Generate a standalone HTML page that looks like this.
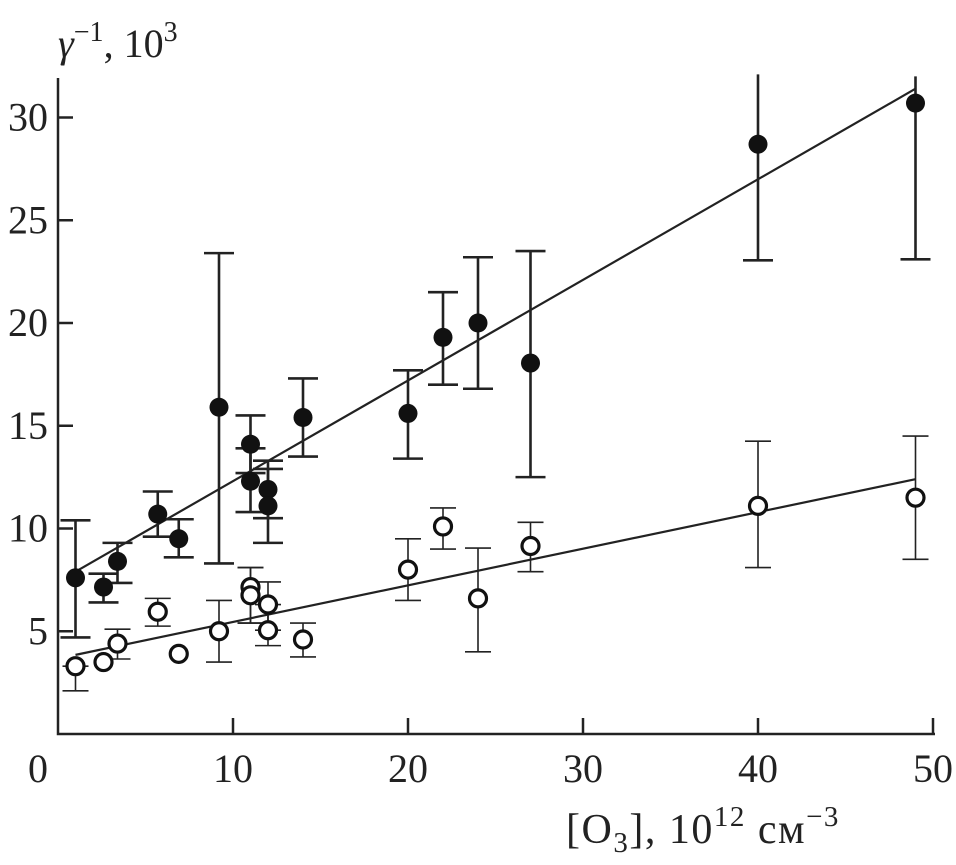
<!DOCTYPE html>
<html><head><meta charset="utf-8"><style>
body{margin:0;background:#fff}
svg{display:block;font-family:"Liberation Serif",serif}
</style></head><body>
<svg id="chart" width="956" height="865" viewBox="0 0 956 865">
<g id="axes"></g>
<g id="marks"></g>
</svg>
<script>
const filledX=[1,2.6,3.4,5.7,6.9,9.2,11,11,12,12,14,20,22,24,27,40,49];
const filledY=[7.6,7.15,8.4,10.7,9.5,15.9,14.1,12.3,11.9,11.1,15.4,15.6,19.3,20.0,18.05,28.7,30.7];
const filledLo=[4.7,6.4,7.35,9.6,8.6,8.3,12.7,10.8,10.5,9.3,13.5,13.4,17.0,16.8,12.5,23.05,23.1];
const filledHi=[10.4,7.8,9.3,11.8,10.45,23.4,15.5,13.9,13.3,12.9,17.3,17.7,21.5,23.2,23.5,32.1,32];
const openX=[1,2.6,3.4,5.7,6.9,9.2,11,11,12,12,14,20,22,24,27,40,49];
const openY=[3.3,3.5,4.4,5.95,3.9,5.0,7.15,6.75,6.3,5.05,4.6,8.0,10.1,6.6,9.15,11.1,11.5];
const openLo=[2.1,null,3.65,5.25,null,3.5,5.4,5.4,5.05,4.3,3.75,6.5,9.0,4.0,7.9,8.1,8.5];
const openHi=[3.3,null,5.1,6.6,null,6.5,8.1,8.1,7.4,6.3,5.4,9.5,11.0,9.05,10.3,14.25,14.5];
const fitFilled=[[1,7.9],[49,31.4]];
const fitOpen=[[1,3.85],[49,12.4]];
const xTicks=[0,10,20,30,40,50];
const yTicks=[5,10,15,20,25,30];
const yMax=31.9;

const NS="http://www.w3.org/2000/svg";
const sx=v=>58+v*17.5, sy=v=>734-v*20.55;
function mk(tag,attrs,parent){const e=document.createElementNS(NS,tag);for(const k in attrs)e.setAttribute(k,attrs[k]);parent.appendChild(e);return e;}
const axes=document.getElementById('axes'), marks=document.getElementById('marks');

let e=mk('path',{d:`M58 78 V734 H935`,stroke:'#222','stroke-width':2.5,fill:'none'},axes);


xTicks.forEach(t=>{
  if(t>0){let l=mk('line',{x1:sx(t),x2:sx(t),y1:734,y2:718,stroke:'#222','stroke-width':2.5},axes);
  
  }
  let tx=mk('text',{x:t===0?38:sx(t),y:782,'font-size':40,'text-anchor':'middle',fill:'#222'},axes);
  tx.textContent=t;
  
  
});
yTicks.forEach(t=>{
  let l=mk('line',{x1:58,x2:73,y1:sy(t),y2:sy(t),stroke:'#222','stroke-width':2.5},axes);
  
  
  let tx=mk('text',{x:48,y:sy(t)+13,'font-size':40,'text-anchor':'end',fill:'#222'},axes);
  tx.textContent=t;
  
  
});
let yt=mk('text',{x:58,y:57,'font-size':40,fill:'#222'},axes);
yt.innerHTML='<tspan font-style="italic">γ</tspan><tspan dy="-16" font-size="28">−1</tspan><tspan dy="16">, 10</tspan><tspan dy="-16" font-size="28">3</tspan>';


let xt=mk('text',{x:566,y:843,'font-size':42,fill:'#222','letter-spacing':1.5},axes);
xt.innerHTML='[O<tspan dy="9" font-size="29">3</tspan><tspan dy="-9">], 10</tspan><tspan dy="-17" font-size="29">12</tspan><tspan dy="17"> см</tspan><tspan dy="-17" font-size="29">−3</tspan>';



[[fitFilled,'fit-line-filled'],[fitOpen,'fit-line-open']].forEach(([f,n])=>{
  let l=mk('line',{x1:sx(f[0][0]),y1:sy(f[0][1]),x2:sx(f[1][0]),y2:sy(f[1][1]),stroke:'#222','stroke-width':2.2},marks);
  
  
});
function errbar(x,lo,hi,w,sw,name){
  const cx=sx(x);
  let d=`M${cx} ${sy(lo)}V${sy(hi)}M${cx-w} ${sy(lo)}H${cx+w}`;
  if(hi<yMax) d+=`M${cx-w} ${sy(hi)}H${cx+w}`;
  let g=mk('path',{d:d,stroke:'#222','stroke-width':sw,fill:'none'},marks);
  
  
}
filledX.forEach((x,i)=>errbar(x,filledLo[i],filledHi[i],15,2.6,'error-bar-filled'));
openX.forEach((x,i)=>{if(openLo[i]!==null)errbar(x,openLo[i],openHi[i],13,1.6,'error-bar-open');});
filledX.forEach((x,i)=>{
  let c=mk('circle',{cx:sx(x),cy:sy(filledY[i]),r:9.5,fill:'#111'},marks);
  
  
});
openX.forEach((x,i)=>{
  let c=mk('circle',{cx:sx(x),cy:sy(openY[i]),r:8.5,fill:'#fff',stroke:'#111','stroke-width':3.2},marks);
  
  
});
</script>
</body></html>
